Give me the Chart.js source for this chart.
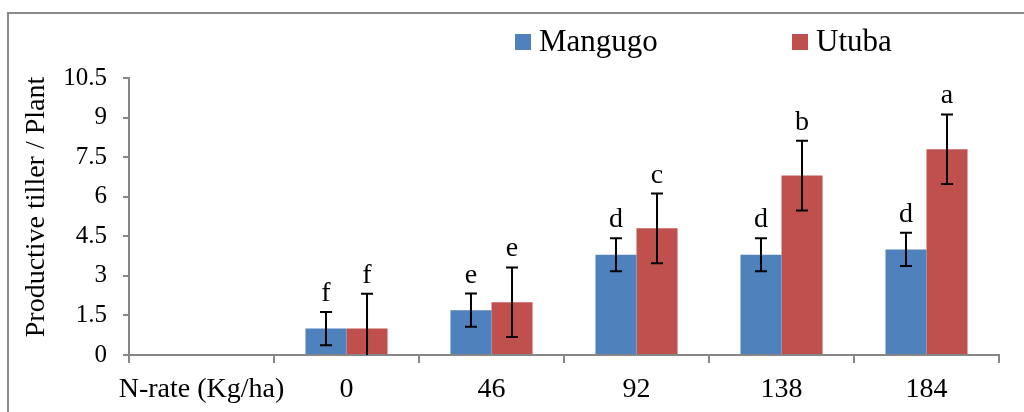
<!DOCTYPE html>
<html>
<head>
<meta charset="utf-8">
<script src="https://cdn.jsdelivr.net/npm/chart.js@4.4.1/dist/chart.umd.min.js"></script>
<style>
    html, body { margin: 0; padding: 0; background: #fff; }
    #wrap { width: 1024px; height: 412px; }
</style>
</head>
<body>
<div id="wrap"><canvas id="tillerChart" width="1024" height="412"></canvas></div>
<script>
// data
const categories = ['N-rate (Kg/ha)', '0', '46', '92', '138', '184'];
const mangugo = [null, 1.0, 1.7, 3.8, 3.8, 4.0];
const utuba = [null, 1.0, 2.0, 4.8, 6.8, 7.8];
const mangugoErr = [null, 0.63, 0.63, 0.63, 0.63, 0.63];
const utubaErr = [null, 1.32, 1.32, 1.32, 1.32, 1.32];
const mangugoLetters = ['', 'f', 'e', 'd', 'd', 'd'];
const utubaLetters = ['', 'f', 'e', 'c', 'b', 'a'];
const yTicks = [0, 1.5, 3, 4.5, 6, 7.5, 9, 10.5];
const yTitle = 'Productive tiller / Plant';

const serif = '"Liberation Serif", "Times New Roman", serif';
const axisGray = '#868686';

document.addEventListener('DOMContentLoaded', function () {
    const ctx = document.getElementById('tillerChart').getContext('2d');

    // frame, legend and y title drawn by hand (they sit off-centre in the original)
    const framePlugin = {
        id: 'frame',
        afterDraw(chart) {
            const c = chart.ctx;
            c.save();
            c.strokeStyle = '#8a8a8a';
            c.lineWidth = 2;
            c.beginPath();
            c.moveTo(1024, 13);
            c.lineTo(8, 13);
            c.lineTo(8, 412);
            c.stroke();

            const items = [[515, 539], [792, 816]];
            c.font = '31px ' + serif;
            c.textBaseline = 'alphabetic';
            c.textAlign = 'left';
            chart.data.datasets.forEach(function (ds, i) {
                c.fillStyle = ds.backgroundColor;
                c.fillRect(items[i][0], 34, 16, 16);
                c.fillStyle = '#000';
                c.fillText(ds.label, items[i][1], 51);
            });

            c.translate(37, 207);
            c.rotate(-Math.PI / 2);
            c.font = '28px ' + serif;
            c.textAlign = 'center';
            c.textBaseline = 'middle';
            c.fillText(yTitle, 0, 0);
            c.restore();
        }
    };

    // error bars and letters from the data arrays
    const errorPlugin = {
        id: 'errorBars',
        afterDatasetsDraw(chart) {
            const c = chart.ctx;
            const y = chart.scales.y;
            const errs = [mangugoErr, utubaErr];
            const letters = [mangugoLetters, utubaLetters];
            c.save();
            c.strokeStyle = '#000';
            c.lineWidth = 2;
            c.fillStyle = '#000';
            c.font = '28px ' + serif;
            c.textAlign = 'center';
            c.textBaseline = 'alphabetic';
            chart.data.datasets.forEach(function (ds, i) {
                const meta = chart.getDatasetMeta(i);
                meta.data.forEach(function (bar, j) {
                    const v = ds.data[j];
                    if (v === null) return;
                    const e = errs[i][j];
                    const top = y.getPixelForValue(v + e);
                    const bot = y.getPixelForValue(Math.max(0, v - e));
                    c.beginPath();
                    c.moveTo(bar.x, top);
                    c.lineTo(bar.x, bot);
                    c.moveTo(bar.x - 6, top);
                    c.lineTo(bar.x + 6, top);
                    if (v - e > 0) {
                        c.moveTo(bar.x - 6, bot);
                        c.lineTo(bar.x + 6, bot);
                    }
                    c.stroke();
                    c.fillText(letters[i][j], bar.x, top - 11);
                });
            });
            c.restore();
        }
    };

    const tillerChart = new Chart(ctx, {
        type: 'bar',
        data: {
            labels: categories,
            datasets: [{
                label: 'Mangugo',
                backgroundColor: '#4F81BD',
                data: mangugo,
                categoryPercentage: 0.566,
                barPercentage: 1.0
            }, {
                label: 'Utuba',
                backgroundColor: '#C0504D',
                data: utuba,
                categoryPercentage: 0.566,
                barPercentage: 1.0
            }]
        },
        options: {
            responsive: false,
            animation: false,
            layout: { padding: { left: 0, top: 78, right: 25, bottom: 0 } },
            plugins: {
                legend: { display: false },
                tooltip: { enabled: false }
            },
            scales: {
                x: {
                    grid: {
                        offset: true,
                        drawOnChartArea: false,
                        drawTicks: true,
                        tickLength: 8,
                        color: axisGray,
                        lineWidth: 2
                    },
                    border: { color: axisGray, width: 2 },
                    ticks: {
                        color: '#000',
                        font: { family: serif, size: 28 },
                        padding: 10,
                        maxRotation: 0,
                        autoSkip: false
                    },
                    afterFit: function (s) { s.height = 57; }
                },
                y: {
                    min: 0,
                    max: 10.5,
                    afterBuildTicks: function (axis) {
                        axis.ticks = yTicks.map(function (v) { return { value: v }; });
                    },
                    grid: {
                        drawOnChartArea: false,
                        drawTicks: true,
                        tickLength: 6,
                        color: axisGray,
                        lineWidth: 2
                    },
                    border: { color: axisGray, width: 2 },
                    ticks: {
                        color: '#000',
                        font: { family: serif, size: 25 },
                        padding: 16
                    },
                    afterFit: function (s) { s.width = 129; }
                }
            }
        },
        plugins: [framePlugin, errorPlugin]
    });
});
</script>
</body>
</html>
